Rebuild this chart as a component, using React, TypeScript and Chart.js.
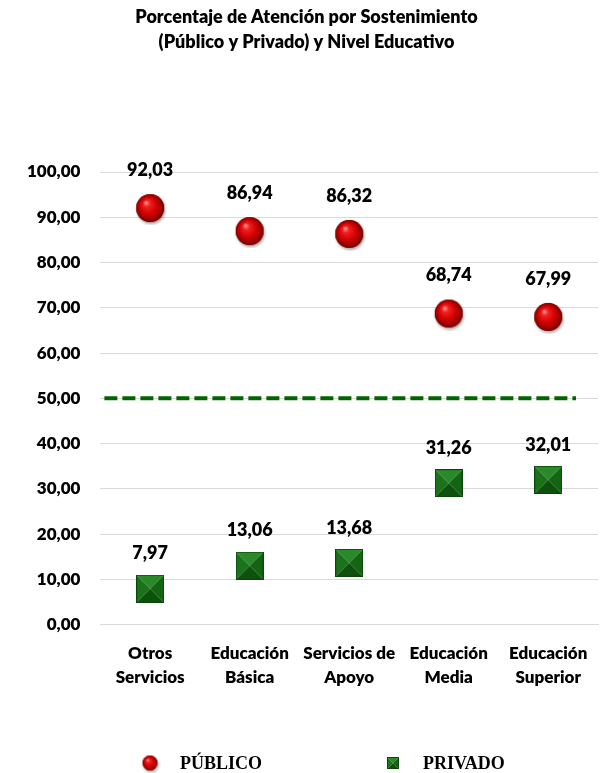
import React, { useEffect, useRef } from "react";
import { Chart, registerables } from "chart.js";

Chart.register(...registerables);

const titleLines = [
  "Porcentaje de Atención por Sostenimiento",
  "(Público y Privado) y Nivel Educativo",
];
const categories = [
  ["Otros", "Servicios"],
  ["Educación", "Básica"],
  ["Servicios de", "Apoyo"],
  ["Educación", "Media"],
  ["Educación", "Superior"],
];
const seriesNames = ["PÚBLICO", "PRIVADO"];
const publicoValues = [92.03, 86.94, 86.32, 68.74, 67.99];
const privadoValues = [7.97, 13.06, 13.68, 31.26, 32.01];
const referenceValue = 50;
const yMin = 0;
const yMax = 100;
const yStep = 10;

const FONT = "Lato, 'Open Sans', sans-serif";
const W = "800";
const fmt = (v: number) => v.toFixed(2).replace(".", ",");

function makeSphere(d: number): HTMLCanvasElement {
  const c = document.createElement("canvas");
  const pad = 3;
  c.width = d + pad * 2;
  c.height = d + pad * 2;
  const ctx = c.getContext("2d")!;
  const r = d / 2;
  const cx = pad + r;
  const cy = pad + r;
  ctx.save();
  ctx.shadowColor = "rgba(0,0,0,0.35)";
  ctx.shadowBlur = 3;
  ctx.shadowOffsetX = 1;
  ctx.shadowOffsetY = 2;
  ctx.beginPath();
  ctx.arc(cx, cy, r, 0, Math.PI * 2);
  ctx.fillStyle = "#b00000";
  ctx.fill();
  ctx.restore();
  const g = ctx.createRadialGradient(cx - r * 0.3, cy - r * 0.4, r * 0.05, cx, cy, r);
  g.addColorStop(0, "#ff8c8c");
  g.addColorStop(0.2, "#f22020");
  g.addColorStop(0.6, "#d00000");
  g.addColorStop(0.9, "#900000");
  g.addColorStop(1, "#6a0000");
  ctx.beginPath();
  ctx.arc(cx, cy, r, 0, Math.PI * 2);
  ctx.fillStyle = g;
  ctx.fill();
  return c;
}

function makePyramid(s: number): HTMLCanvasElement {
  const c = document.createElement("canvas");
  c.width = s;
  c.height = s;
  const ctx = c.getContext("2d")!;
  const m = s / 2;
  const tri = (pts: number[][], col: string) => {
    ctx.beginPath();
    ctx.moveTo(pts[0][0], pts[0][1]);
    ctx.lineTo(pts[1][0], pts[1][1]);
    ctx.lineTo(pts[2][0], pts[2][1]);
    ctx.closePath();
    ctx.fillStyle = col;
    ctx.fill();
  };
  tri([[0, 0], [s, 0], [m, m]], "#2a8a2a");
  tri([[0, 0], [0, s], [m, m]], "#1a721a");
  tri([[s, 0], [s, s], [m, m]], "#136413");
  tri([[0, s], [s, s], [m, m]], "#0c520c");
  ctx.strokeStyle = "#0a460a";
  ctx.lineWidth = 1;
  ctx.strokeRect(0.5, 0.5, s - 1, s - 1);
  return c;
}

const bigSphere = makeSphere(28);
const bigSquare = makePyramid(28);
const smallSphere = makeSphere(15);
const smallSquare = makePyramid(12);

const customPlugin = {
  id: "custom",
  beforeDatasetsDraw(chart: any) {
    const { ctx, chartArea, scales } = chart;
    const y = scales.y.getPixelForValue(referenceValue);
    ctx.save();
    ctx.strokeStyle = "#006400";
    ctx.lineWidth = 4;
    ctx.setLineDash([13, 5]);
    ctx.beginPath();
    ctx.moveTo(chartArea.left + 4, y);
    ctx.lineTo(chartArea.right - 22, y);
    ctx.stroke();
    ctx.restore();
  },
  afterDatasetsDraw(chart: any) {
    const { ctx } = chart;
    ctx.save();
    ctx.font = `${W} 18px ${FONT}`;
    ctx.fillStyle = "#000";
    ctx.textAlign = "center";
    ctx.textBaseline = "middle";
    chart.data.datasets.forEach((ds: any, i: number) => {
      const meta = chart.getDatasetMeta(i);
      meta.data.forEach((pt: any, j: number) => {
        const off = i === 0 ? 38 : 35;
        ctx.fillText(fmt(ds.data[j]), pt.x, pt.y - off);
      });
    });
    ctx.restore();
  },
  afterDraw(chart: any) {
    const { ctx, width } = chart;
    ctx.save();
    ctx.font = `${W} 18px ${FONT}`;
    ctx.fillStyle = "#000";
    ctx.textAlign = "center";
    ctx.textBaseline = "middle";
    ctx.fillText(titleLines[0], width / 2, 17);
    ctx.fillText(titleLines[1], width / 2, 42);
    const ly = 763;
    ctx.drawImage(smallSphere, 150 - smallSphere.width / 2, ly - smallSphere.height / 2);
    ctx.drawImage(smallSquare, 393 - smallSquare.width / 2, ly - smallSquare.height / 2);
    ctx.font = `bold 18px 'Liberation Serif', 'DejaVu Serif', serif`;
    ctx.textAlign = "left";
    ctx.fillText(seriesNames[0], 180, ly + 1);
    ctx.fillText(seriesNames[1], 423, ly + 1);
    ctx.restore();
  },
};

export default function App() {
  const ref = useRef<HTMLCanvasElement | null>(null);
  useEffect(() => {
    if (!ref.current) return;
    const chart = new Chart(ref.current, {
      type: "line",
      data: {
        labels: categories,
        datasets: [
          {
            label: seriesNames[0],
            data: publicoValues,
            showLine: false,
            pointStyle: bigSphere as any,
            pointRadius: 14,
            borderColor: "#c00000",
            backgroundColor: "#c00000",
          },
          {
            label: seriesNames[1],
            data: privadoValues,
            showLine: false,
            pointStyle: bigSquare as any,
            pointRadius: 14,
            borderColor: "#1d771d",
            backgroundColor: "#1d771d",
          },
        ],
      },
      options: {
        responsive: false,
        animation: false,
        layout: { padding: { top: 172, left: 7, right: 11, bottom: 67 } },
        plugins: {
          legend: { display: false },
          title: { display: false },
          tooltip: { enabled: false },
        },
        scales: {
          x: {
            offset: true,
            grid: { display: false, drawTicks: false },
            border: { display: true, color: "#d9d9d9", width: 1 },
            ticks: {
              color: "#000",
              padding: 16,
              autoSkip: false,
              maxRotation: 0,
              font: { family: FONT, size: 17, weight: W, lineHeight: 1.45 },
            },
          },
          y: {
            min: yMin,
            max: yMax,
            grid: { color: "#d9d9d9", lineWidth: 1, drawTicks: false },
            border: { display: false },
            ticks: {
              stepSize: yStep,
              color: "#000",
              padding: 20,
              callback: (v: any) => fmt(Number(v)),
              font: { family: FONT, size: 17, weight: W },
            },
          },
        },
      },
      plugins: [customPlugin],
    });
    return () => chart.destroy();
  }, []);
  return (
    <div style={{ position: "absolute", left: 0, top: 0, width: 613, height: 773, background: "#fff" }}>
      <canvas ref={ref} width={613} height={773} style={{ display: "block" }} />
    </div>
  );
}
